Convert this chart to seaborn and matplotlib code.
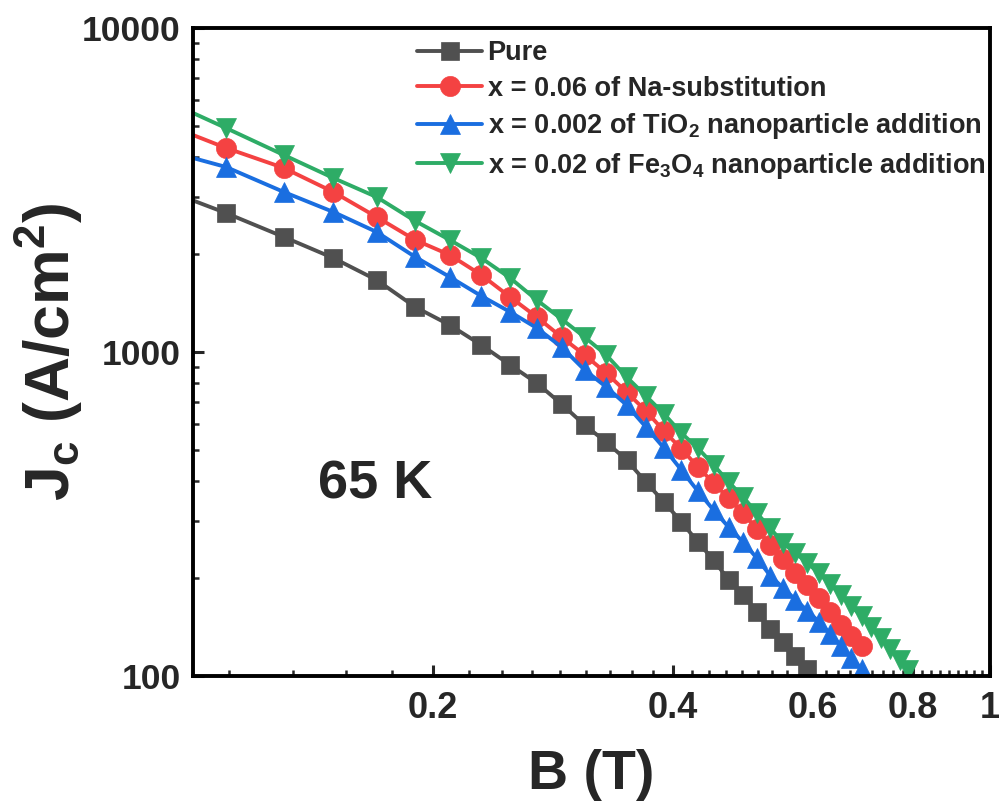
import matplotlib
matplotlib.use("Agg")
import matplotlib.pyplot as plt
import matplotlib.ticker as mticker
import pandas as pd
import seaborn as sns

# Field values (T) - first point sits just left of the axis edge
B_pure = [0.09, 0.11, 0.13, 0.15, 0.17, 0.19, 0.21, 0.23, 0.25, 0.27, 0.29, 0.31, 0.33,
          0.35, 0.37, 0.39, 0.41, 0.43, 0.45, 0.47, 0.49, 0.51, 0.53, 0.55, 0.57, 0.59]
B_na = B_pure + [0.61, 0.63, 0.65, 0.67, 0.69]
B_ti = B_pure + [0.61, 0.63, 0.65, 0.67, 0.69]
B_fe = B_pure + [0.61, 0.63, 0.65, 0.67, 0.69, 0.71, 0.73, 0.75, 0.77, 0.79]

# Jc (A/cm2)
jc_pure = [3240, 2685, 2265, 1950, 1668, 1377, 1211, 1051, 912, 802, 691, 595, 527,
           464, 397, 344, 299, 259, 228, 198, 178, 158, 140, 127, 115, 105]
jc_na = [5175, 4264, 3698, 3118, 2610, 2217, 1993, 1729, 1478, 1282, 1112, 979, 861,
         752, 658, 570, 502, 442, 394, 354, 318, 284, 254, 230, 208, 191,
         174, 158, 144, 133, 124]
jc_ti = [4260, 3724, 3118, 2705, 2346, 1965, 1704, 1489, 1329, 1186, 1036, 880, 780,
         686, 587, 505, 432, 372, 325, 288, 259, 231, 204, 187, 172, 159,
         147, 135, 124, 114, 105]
jc_fe = [6155, 4912, 4055, 3444, 3008, 2537, 2217, 1950, 1692, 1447, 1264, 1112, 979,
         837, 732, 644, 562, 505, 448, 397, 357, 318, 286, 257, 240, 223,
         208, 192, 178, 164, 153, 142, 131, 121, 112, 104]

labels = ["Pure",
          "x = 0.06 of Na-substitution",
          "x = 0.002 of TiO$_2$ nanoparticle addition",
          "x = 0.02 of Fe$_3$O$_4$ nanoparticle addition"]
colors = ["#505050", "#f44242", "#1a6ee0", "#2eac66"]
markers = ["s", "o", "^", "v"]
msizes = [12.5, 14.5, 15, 15]

x_major = [0.2, 0.4, 0.6, 0.8, 1.0]
x_major_labels = ["0.2", "0.4", "0.6", "0.8", "1"]
y_major = [100, 1000, 10000]
y_major_labels = ["100", "1000", "10000"]

sns.set_style("ticks")
plt.rcParams["font.family"] = ["Liberation Sans", "DejaVu Sans"]
plt.rcParams["font.weight"] = "bold"
plt.rcParams["mathtext.fontset"] = "custom"
plt.rcParams["mathtext.rm"] = "Liberation Sans:bold"
plt.rcParams["mathtext.it"] = "Liberation Sans:bold"
plt.rcParams["mathtext.bf"] = "Liberation Sans:bold"
plt.rcParams["mathtext.default"] = "rm"

fig = plt.figure(figsize=(10.01, 8.05), dpi=100)
ax = fig.add_axes([193 / 1001, 1 - 676 / 805, 797 / 1001, 648 / 805])

series = [(B_pure, jc_pure), (B_na, jc_na), (B_ti, jc_ti), (B_fe, jc_fe)]
for (bx, jy), lab, col, mk, ms in zip(series, labels, colors, markers, msizes):
    df = pd.DataFrame({"B": bx, "Jc": jy})
    sns.lineplot(data=df, x="B", y="Jc", ax=ax, color=col, marker=mk, markersize=ms,
                 linewidth=2.8, markeredgecolor=col, markeredgewidth=0.5, label=lab)

ax.set_xscale("log")
ax.set_yscale("log")
ax.set_xlim(0.1, 1.0)
ax.set_ylim(100, 10000)

ax.xaxis.set_major_locator(mticker.FixedLocator(x_major))
ax.xaxis.set_major_formatter(mticker.FixedFormatter(x_major_labels))
ax.xaxis.set_minor_locator(mticker.FixedLocator([k * 0.2 / 9 for k in range(5, 46) if k % 9]))
ax.xaxis.set_minor_formatter(mticker.NullFormatter())
ax.yaxis.set_major_locator(mticker.FixedLocator(y_major))
ax.yaxis.set_major_formatter(mticker.FixedFormatter(y_major_labels))
ax.yaxis.set_minor_locator(mticker.LogLocator(base=10, subs=range(2, 10)))
ax.yaxis.set_minor_formatter(mticker.NullFormatter())

ax.tick_params(which="major", direction="in", length=8, width=2.2, top=False, right=False)
ax.tick_params(which="minor", direction="in", length=4, width=1.8, top=False, right=False)
ax.tick_params(axis="x", which="major", labelsize=26, pad=11)
ax.tick_params(axis="y", which="major", labelsize=25.5, pad=9)
for sp in ax.spines.values():
    sp.set_linewidth(2.8)
    sp.set_color("black")

ax.set_xlabel("B (T)", fontsize=40, fontweight="bold", labelpad=16)
ax.set_ylabel("J$_c$ (A/cm$^2$)", fontsize=45, fontweight="bold", labelpad=-2)

ax.text(0.157, 0.295, "65 K", transform=ax.transAxes, fontsize=39,
        fontweight="bold", ha="left", va="center")

leg = ax.legend(loc="upper left", bbox_to_anchor=(0.266, 1.0), frameon=False,
                fontsize=19.5, handlelength=2.4, handletextpad=0.2, labelspacing=0.35,
                borderaxespad=0.2, borderpad=0.25)

fig.savefig("out.png", dpi=100)
